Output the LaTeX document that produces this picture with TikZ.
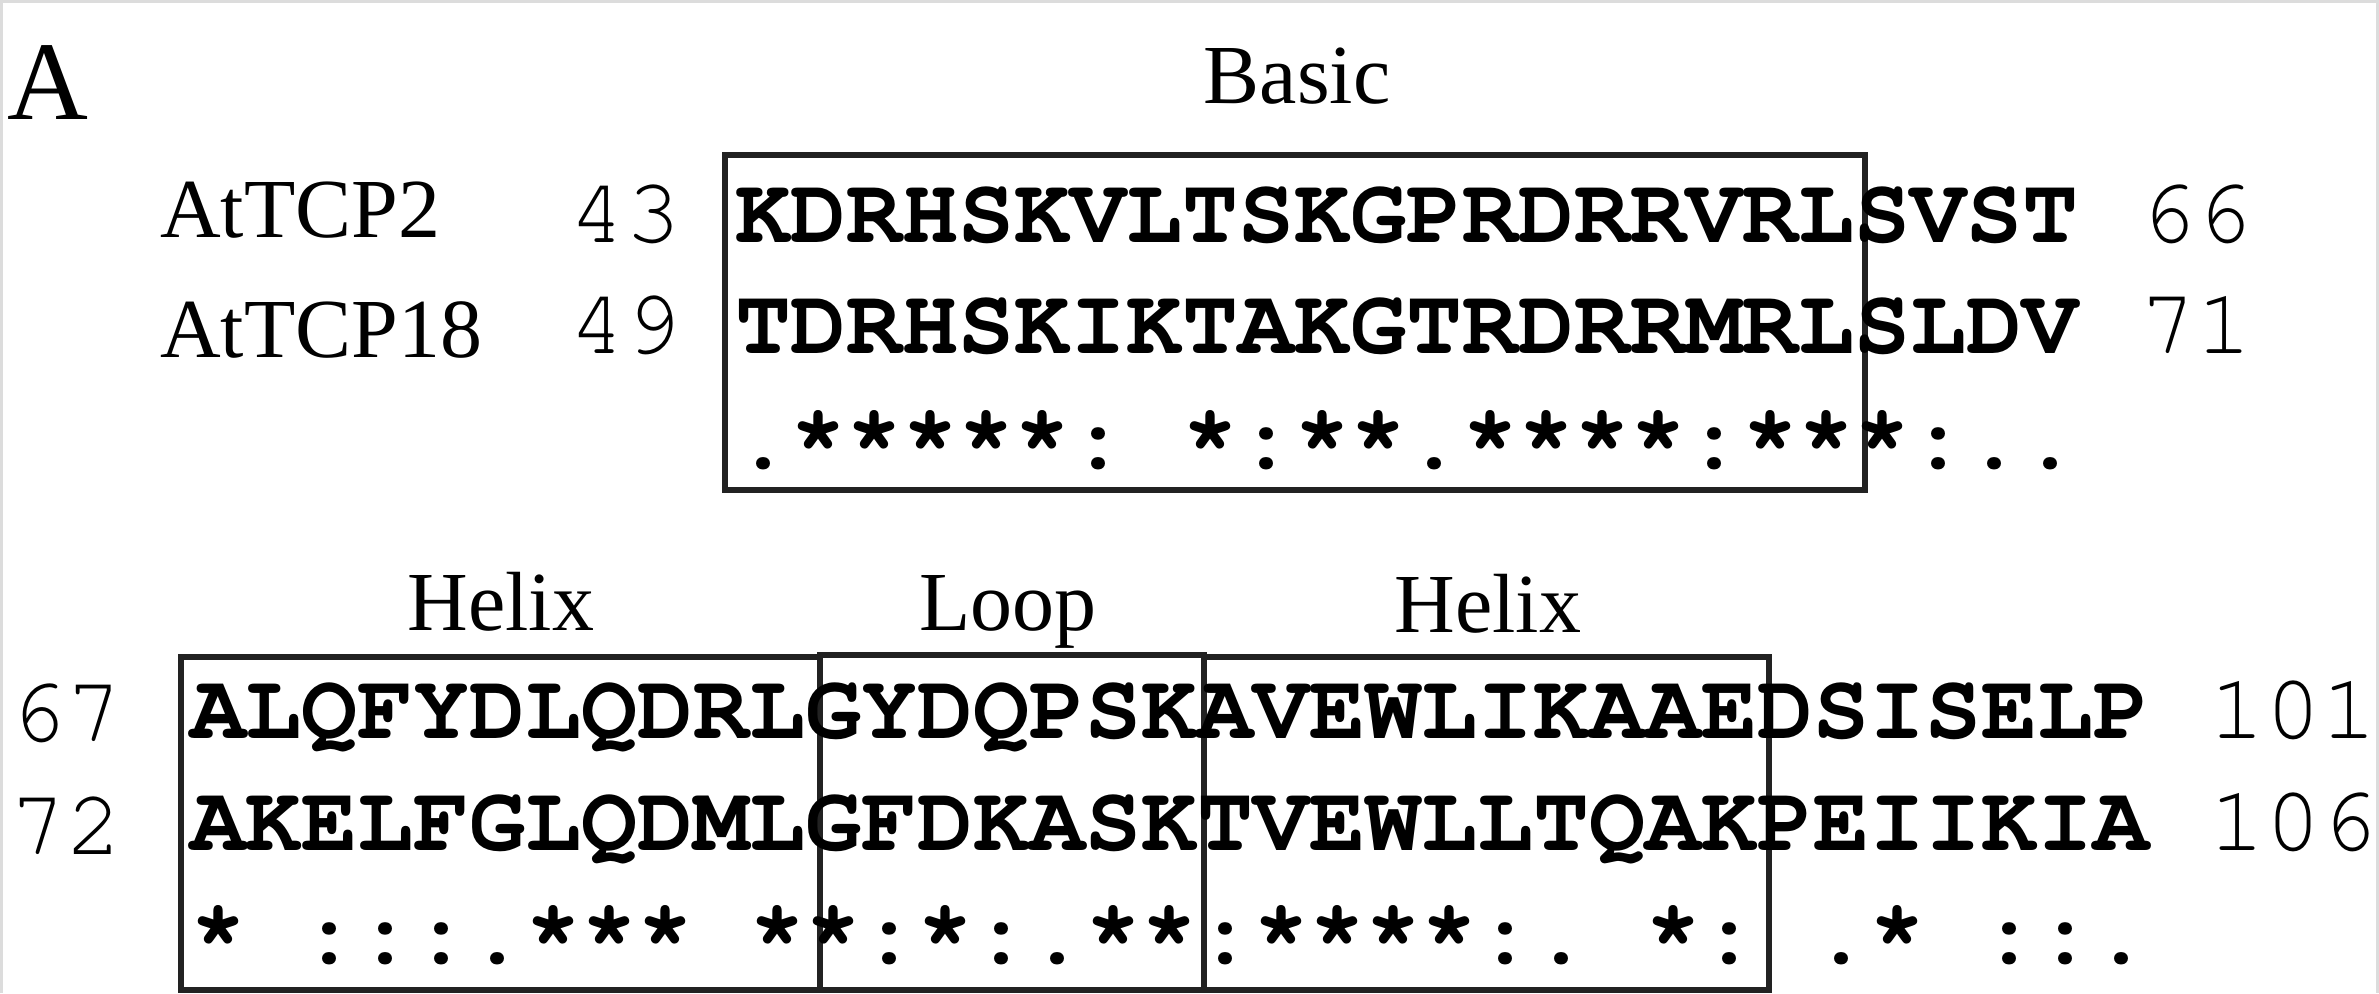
\documentclass[tikz,border=0pt]{standalone}
\usepackage{fontspec}
\setmainfont{Liberation Serif}
\newfontfamily\seqfam{TeX Gyre Cursor}[WordSpace={1,0,0},PunctuationSpace=0]
\newcommand\seqsize{\fontsize{46.66pt}{50pt}\selectfont}
\newcommand\labsize{\fontsize{42pt}{46pt}\selectfont}
\frenchspacing
\definecolor{boxline}{HTML}{222222}
\definecolor{framegray}{HTML}{DCDCDC}

\begin{document}
\begin{tikzpicture}[x=0.5pt,y=-0.5pt,
  every node/.style={inner sep=0pt,outer sep=0pt},
  seqrow/.style={anchor=base west,font=\seqfam\bfseries\seqsize},
  resnum/.style={font=\seqfam\seqsize},
  numleft/.style={resnum,anchor=base east},
  numright/.style={resnum,anchor=base east},
  protname/.style={anchor=base west,font=\labsize},
  regionlabel/.style={anchor=base,font=\labsize},
  domainbox/.style={draw=boxline,line width=2.75pt},
]
% page size
\useasboundingbox (0,0) rectangle (2379,993);
\draw[framegray,line width=1.5pt] (1.5,993) -- (1.5,1.5) -- (2377.5,1.5) -- (2377.5,993);

% panel letter
\node[anchor=base west,font=\fontsize{56pt}{60pt}\selectfont] (panel) at (8,119) {A};

% ---- upper block: basic region ----
\node[regionlabel] (basic) at (1297,103) {Basic};
\draw[domainbox] (725,155) rectangle (1865,490);

\node[protname] (name2)  at (160,237) {AtTCP2};
\node[protname] (name18) at (160,357) {AtTCP18};

\node[numleft] (s2a)  at (681,242) {43};
\node[numleft] (s18a) at (681,353) {49};

\node[seqrow] (seq2a)  at (735,242) {KDRHSKVLTSKGPRDRRVRLSVST};
\node[seqrow] (seq18a) at (735,353) {TDRHSKIKTAKGTRDRRMRLSLDV};
\node[seqrow] (consa)  at (735,468) {.*****:~*:**.****:***:..};

\node[numright] (e2a)  at (2252,242) {66};
\node[numright] (e18a) at (2252,353) {71};

% ---- lower block: helix-loop-helix ----
\node[regionlabel] (helix1) at (501,630)  {Helix};
\node[regionlabel] (loop)   at (1008,630) {Loop};
\node[regionlabel] (helix2) at (1488,632) {Helix};

\draw[domainbox] (181,657) rectangle (820,990);
\draw[domainbox] (820,655) rectangle (1204,990);
\draw[domainbox] (1204,657) rectangle (1769,990);

\node[numleft] (s2b)  at (122,741) {67};
\node[numleft] (s18b) at (122,854) {72};

\node[seqrow] (seq2b)  at (190,738) {ALQFYDLQDRLGYDQPSKAVEWLIKAAEDSISELP};
\node[seqrow] (seq18b) at (190,850) {AKELFGLQDMLGFDKASKTVEWLLTQAKPEIIKIA};
\node[seqrow] (consb)  at (190,963) {*~:::.***~**:*:.**:****:.~*:~.*~::.};

\node[numright] (e2b)  at (2377,738) {101};
\node[numright] (e18b) at (2377,850) {106};
\end{tikzpicture}
\end{document}
